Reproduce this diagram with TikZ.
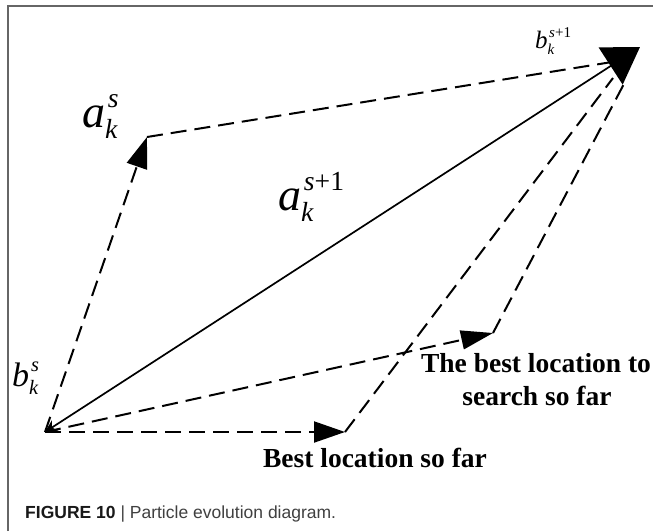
\documentclass[tikz,border=0pt]{standalone}
\usepackage{fontspec}
\setmainfont{Liberation Serif}
\newfontfamily\capfont{Liberation Sans}
\usetikzlibrary{arrows.meta}

% italic letter with sub- and superscript, in the Times-like text font
\newcommand{\vsym}[3]{\textit{#1}{\fontsize{0.6em}{0.6em}\selectfont\itshape
  \rlap{\kern0.1em\raisebox{0.7em}{#3}}\raisebox{-0.42em}{#2}}}

\tikzset{
  dashvec/.style={line width=2pt, dash pattern=on 16pt off 8pt},
  headvec/.style={-{Triangle[length=31pt,width=21pt]}},
  lbl/.style={font=\bfseries\fontsize{27.5}{33}\selectfont, inner sep=0pt, anchor=base},
  sym/.style={inner sep=0pt, anchor=base west, font=\fontsize{46}{50}\selectfont}
}

\begin{document}
\begin{tikzpicture}[x=1pt,y=-1pt]
  \useasboundingbox (0,0) rectangle (653,531);
  \fill[white] (0,0) rectangle (653,531);
  \draw[line width=1.5pt, black!60] (8,531) -- (8,6) -- (653,6);

  \coordinate (O) at (45,432);
  \coordinate (A) at (147,137);
  \coordinate (B) at (345,432);
  \coordinate (S) at (493,333);
  \coordinate (T) at (640,47);
  \coordinate (TA) at (612,62);
  \coordinate (TB) at (613,78);
  \coordinate (TS) at (626,80);

  % the four moves
  \draw[dashvec, headvec] (O) -- (A);
  \draw[dashvec] (A) -- (TA);
  \draw[dashvec, headvec] (O) -- (B);
  \draw[dashvec] (B) -- (TB);
  \draw[dashvec, -{Triangle[length=32pt,width=19pt]}] (O) -- (S);
  \draw[dashvec] (S) -- (TS);
  \draw[line width=1.7pt, {Stealth[length=12pt,width=12pt]}-{Triangle[length=35pt,width=44pt]}] (O) -- (T);

  \node[sym] (as) at (82,127) {\vsym{a}{k}{s}};
  \node[sym] (as1) at (278,210) {\vsym{a}{k}{s\textup{+1}}};
  \node[sym, font=\fontsize{25}{28}\selectfont] (bs1) at (535,48) {\vsym{b}{k}{s\textup{+1}}};
  \node[sym, font=\fontsize{34}{38}\selectfont] (bs) at (12,386) {\vsym{b}{k}{s}};

  \node[lbl] (search) at (536,372) {The best location to};
  \node[lbl] (search2) at (537,405) {search so far};
  \node[lbl] (best) at (375,467) {Best location so far};

  \node[anchor=base west, inner sep=0pt, font=\capfont\fontsize{17.5}{20}\selectfont, text=black!75] (cap) at (25,518)
    {\textbf{\color{black!90}FIGURE 10} | Particle evolution diagram.};
\end{tikzpicture}
\end{document}
